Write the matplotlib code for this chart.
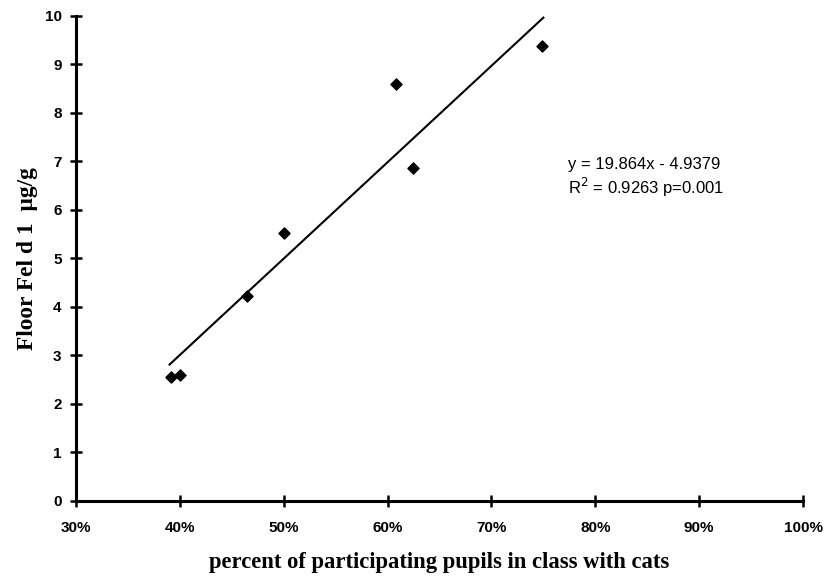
import matplotlib.pyplot as plt
from matplotlib.ticker import PercentFormatter

# share of participating pupils with cats per class, floor Fel d 1 level
pct_cats = [0.391, 0.400, 0.465, 0.500, 0.608, 0.624, 0.749]
fel_d1 = [2.56, 2.60, 4.23, 5.53, 8.60, 6.87, 9.38]

slope = 19.864
intercept = -4.9379
fit_x = [0.39, 0.75]
fit_y = [slope * x + intercept for x in fit_x]

x_ticks = [0.3, 0.4, 0.5, 0.6, 0.7, 0.8, 0.9, 1.0]
y_ticks = list(range(0, 11))

fig = plt.figure(figsize=(8.27, 5.81), dpi=100)
ax = fig.add_axes([0.092, 0.138, 0.879, 0.835])

ax.plot(fit_x, fit_y, color='black', lw=1.5)
ax.scatter(pct_cats, fel_d1, marker='D', s=32, color='black', zorder=3)

ax.set_xlim(0.3, 1.0)
ax.set_ylim(0, 10)
ax.set_xticks(x_ticks)
ax.set_yticks(y_ticks)
ax.xaxis.set_major_formatter(PercentFormatter(1.0, decimals=0))

for s in ['top', 'right']:
	ax.spines[s].set_visible(False)
for s in ['left', 'bottom']:
	ax.spines[s].set_linewidth(2.2)

ax.tick_params(direction='inout', length=9, width=1.8, labelsize=11)
ax.tick_params(axis='x', pad=10)
ax.tick_params(axis='y', pad=6)
for lab in ax.get_xticklabels() + ax.get_yticklabels():
	lab.set_fontfamily('Liberation Sans')
	lab.set_fontweight('bold')

ax.set_xlabel('percent of participating pupils in class with cats',
	fontfamily='Liberation Serif', fontweight='bold', fontsize=16.3, labelpad=12)
ax.set_ylabel('Floor Fel d 1  µg/g',
	fontfamily='Liberation Serif', fontweight='bold', fontsize=16.8, labelpad=5)

ax.text(0.7735, 6.66, 'y = 19.864x - 4.9379\nR$^2$ = 0.9263 p=0.001',
	fontfamily='Liberation Sans', fontsize=12, va='center', ha='left',
	linespacing=1.2)

plt.savefig('out.png')
